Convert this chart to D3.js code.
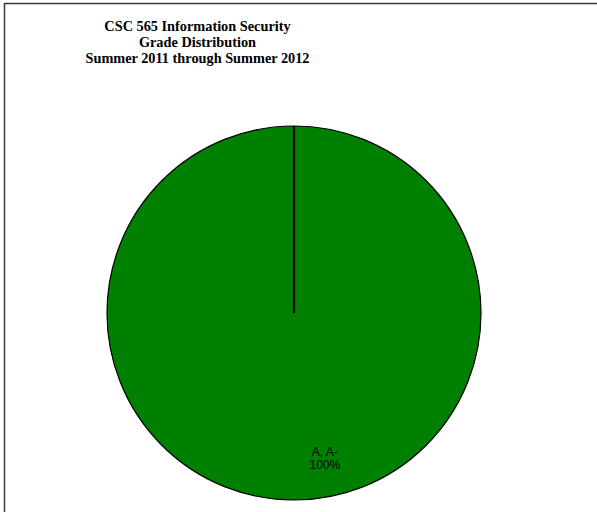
<!DOCTYPE html>
<html><head><meta charset="utf-8">
<script src="https://cdn.jsdelivr.net/npm/d3@7"></script>
<style>html,body{margin:0;padding:0;background:#fff;overflow:hidden}</style>
</head><body>
<script>
const titleLines = ["CSC 565 Information Security", "Grade Distribution", "Summer 2011 through Summer 2012"];
const categories = ["A, A-"];
const values = [100];
const colors = ["#008000"];

const W = 597, H = 512;
const svg = d3.select("body").append("svg").attr("width", W).attr("height", H);

// frame
svg.append("rect").attr("x", 4.5).attr("y", 3.5).attr("width", 640).attr("height", 560)
  .attr("fill", "none").attr("stroke", "#3a3a3a").attr("stroke-width", 1.5);

// title
svg.append("g").selectAll("text").data(titleLines).join("text")
  .attr("x", 197.5).attr("y", (d, i) => 30.5 + i * 16)
  .attr("text-anchor", "middle")
  .attr("font-family", "'Liberation Serif', 'Times New Roman', serif")
  .attr("font-weight", "bold").attr("font-size", 14.3).attr("fill", "#000")
  .text(d => d);

const cx = 294, cy = 313, r = 187;
const g = svg.append("g").attr("transform", `translate(${cx},${cy})`);
const pie = d3.pie().sort(null).value(d => d.v);
const data = pie(categories.map((c, i) => ({ c, v: values[i], col: colors[i] })));
const arc = d3.arc().innerRadius(0).outerRadius(r);

g.selectAll("path.slice").data(data).join("path").attr("class", "slice")
  .attr("d", arc).attr("fill", d => d.data.col)
  .attr("stroke", "#000").attr("stroke-width", 1.2);

// slice boundary line (start edge)
g.selectAll("line.edge").data(data).join("line").attr("class", "edge")
  .attr("x1", 0).attr("y1", 0)
  .attr("x2", d => r * Math.sin(d.startAngle)).attr("y2", d => -r * Math.cos(d.startAngle))
  .attr("stroke", "#000").attr("stroke-width", 2.2);

// labels
const total = d3.sum(values);
const lab = g.selectAll("g.lab").data(data).join("g").attr("class", "lab")
  .attr("transform", d => {
    const a = (d.startAngle + d.endAngle) / 2 - 0.205;
    const rr = r * 0.81;
    return `translate(${rr * Math.sin(a)},${-rr * Math.cos(a)})`;
  });
lab.append("text").attr("text-anchor", "middle").attr("y", -5)
  .attr("font-family", "'Liberation Sans', Arial, sans-serif").attr("font-size", 12).attr("fill", "#000")
  .text(d => d.data.c);
lab.append("text").attr("text-anchor", "middle").attr("y", 8)
  .attr("font-family", "'Liberation Sans', Arial, sans-serif").attr("font-size", 12).attr("fill", "#000")
  .text(d => Math.round(d.data.v / total * 100) + "%");
</script>
</body></html>
